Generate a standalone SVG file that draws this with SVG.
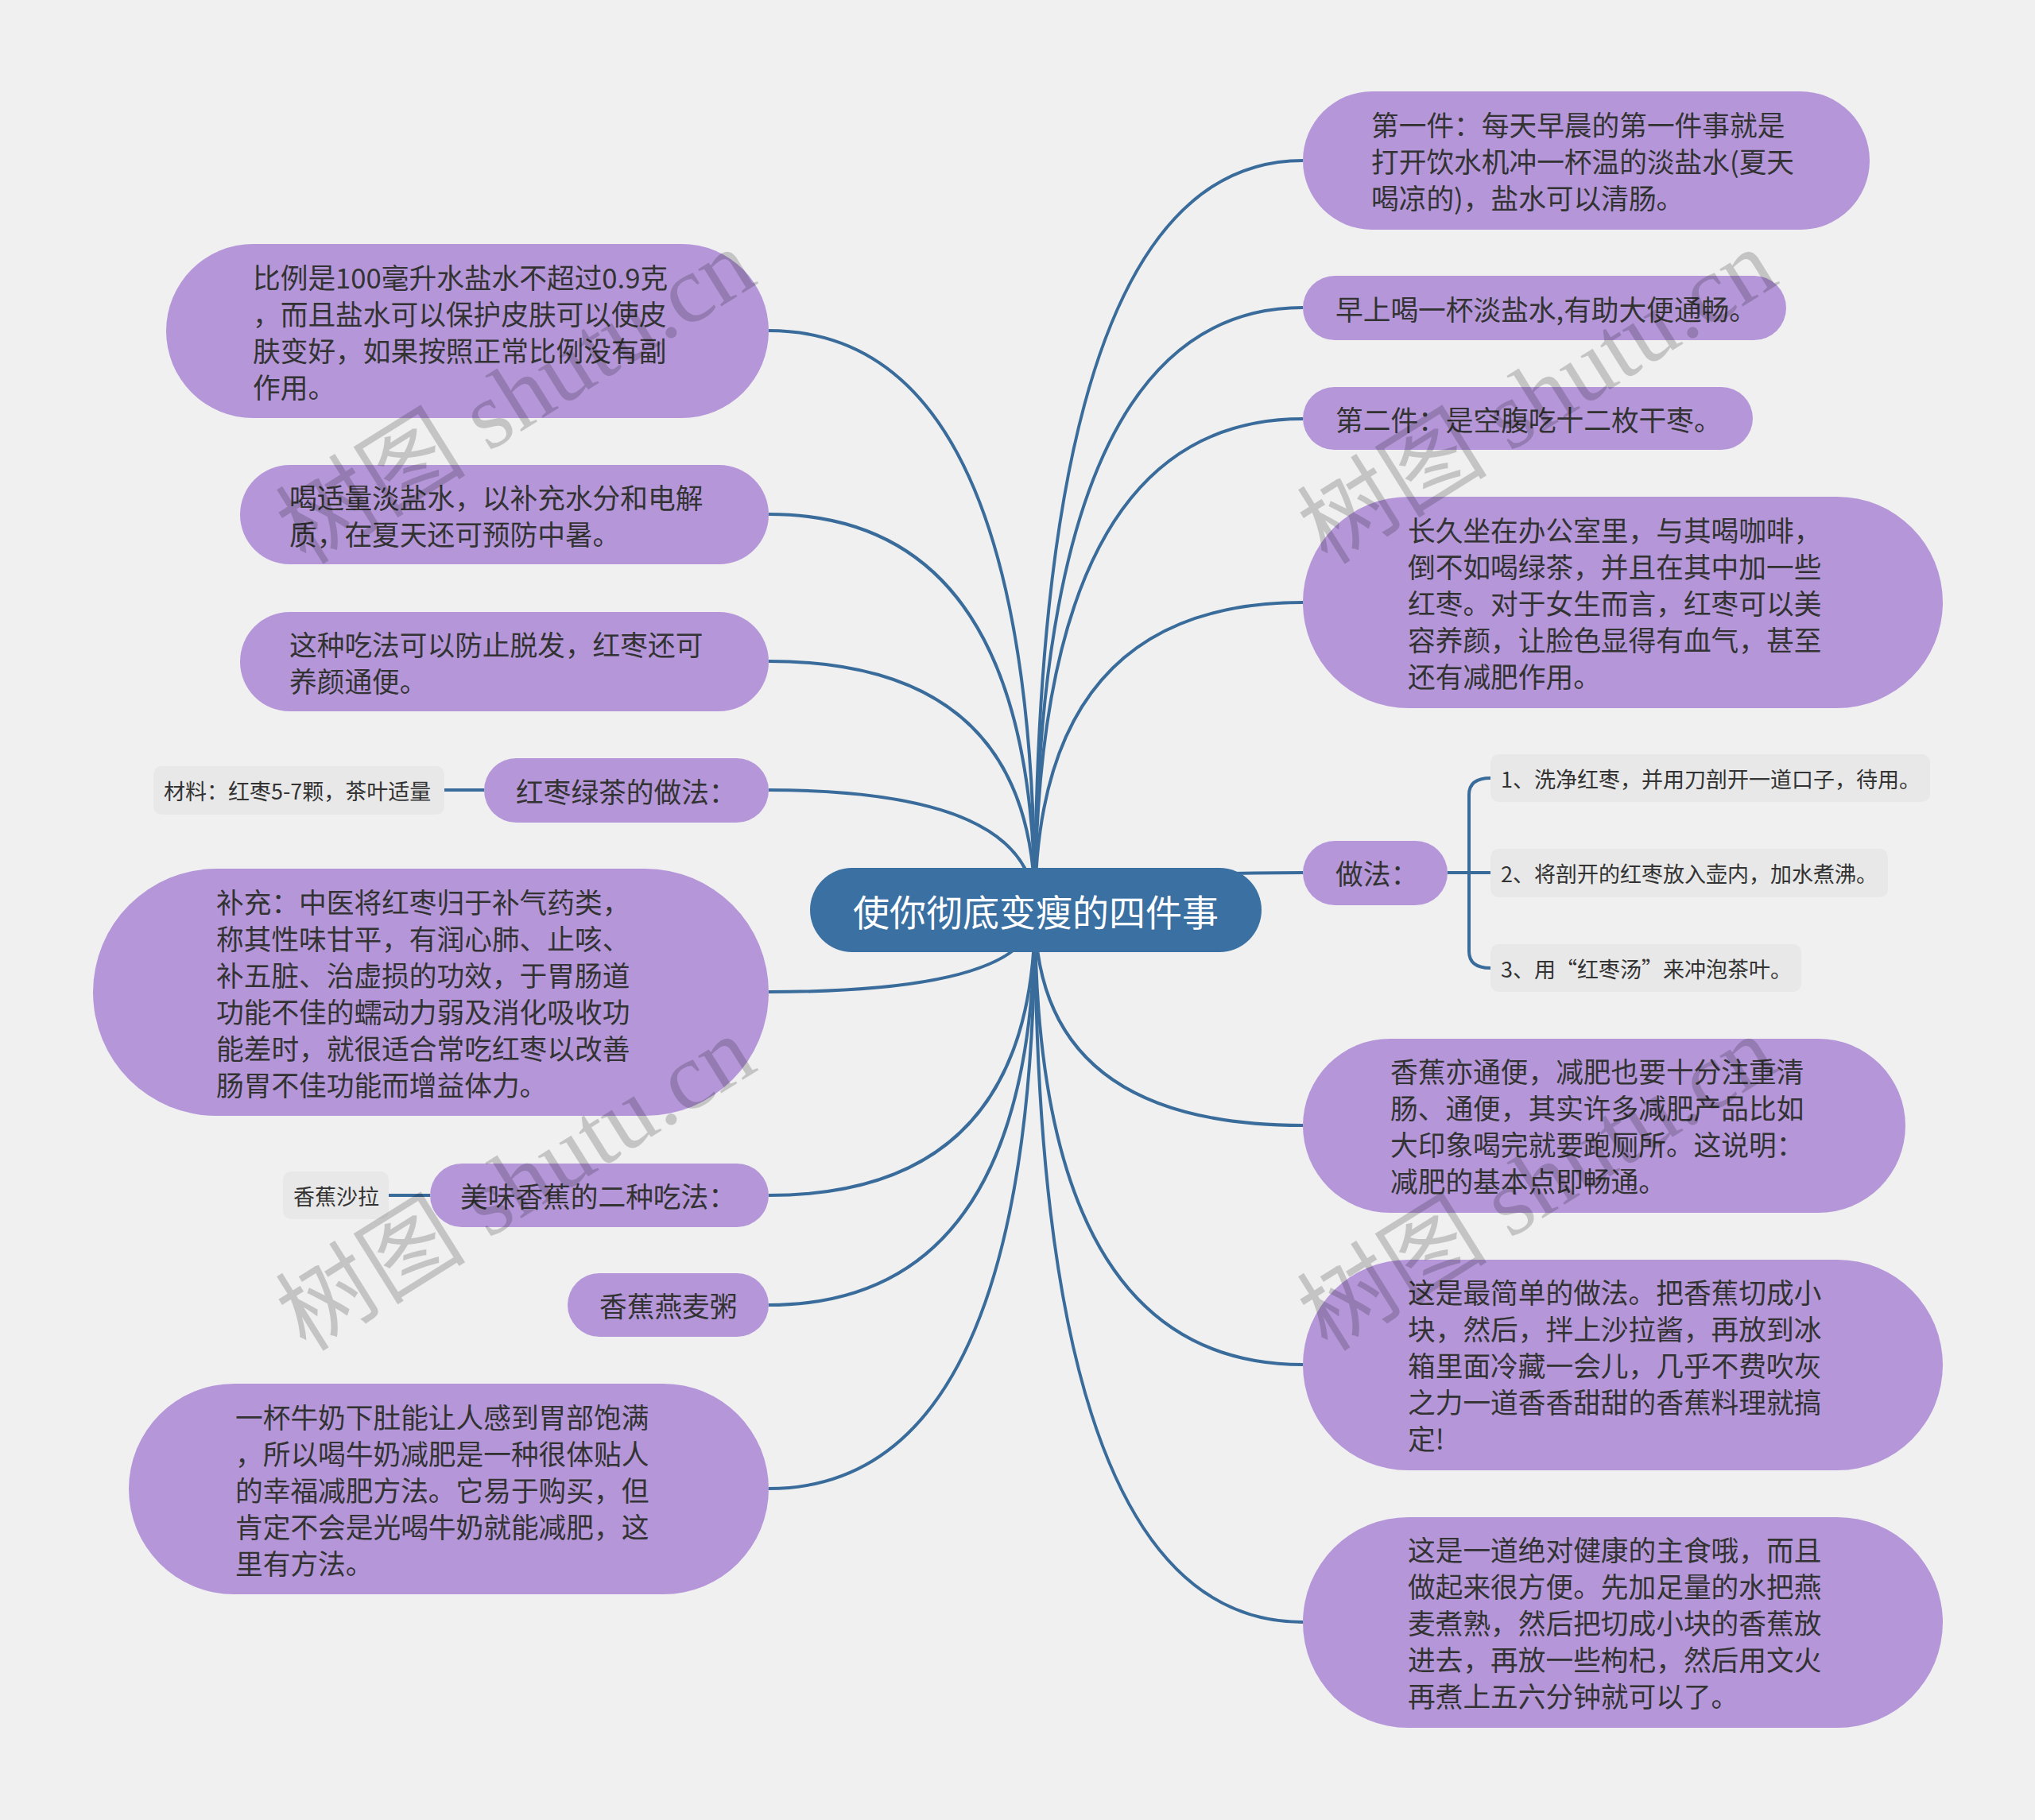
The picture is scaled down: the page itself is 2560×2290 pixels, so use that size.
<svg xmlns="http://www.w3.org/2000/svg" width="2560" height="2290" viewBox="0 0 2560 2290">
<style>
.c{fill:none;stroke:#3a6c9b;stroke-width:4}
.p{fill:#b597d9}
.g{fill:#e8e8e8}
.t{font-family:"Noto Sans CJK SC","Liberation Sans",sans-serif;font-size:34.7px;fill:#333333;dominant-baseline:central}
.s{font-size:27px}
.ct{font-family:"Noto Sans CJK SC","Liberation Sans",sans-serif;font-size:46px;fill:#ffffff;dominant-baseline:central;text-anchor:middle}
.wm{font-family:"Liberation Serif","Noto Sans CJK SC",serif;font-size:120px;fill:#000000;fill-opacity:0.18}
</style>
<rect width="2560" height="2290" fill="#f0f0f0"/>
<g id="connectors">
<path class="c" d="M1302,1146 Q1302,202 1639,202"/>
<path class="c" d="M1302,1146 Q1302,387 1639,387"/>
<path class="c" d="M1302,1146 Q1302,527 1639,527"/>
<path class="c" d="M1302,1146 Q1302,758 1639,758"/>
<path class="c" d="M1302,1146 Q1302,1098 1639,1098"/>
<path class="c" d="M1302,1146 Q1302,1416 1639,1416"/>
<path class="c" d="M1302,1146 Q1302,1717 1639,1717"/>
<path class="c" d="M1302,1146 Q1302,2041 1639,2041"/>
<path class="c" d="M1302,1146 Q1302,416 967,416"/>
<path class="c" d="M1302,1146 Q1302,647 967,647"/>
<path class="c" d="M1302,1146 Q1302,832 967,832"/>
<path class="c" d="M1302,1146 Q1302,994 967,994"/>
<path class="c" d="M1302,1146 Q1302,1248 967,1248"/>
<path class="c" d="M1302,1146 Q1302,1504 967,1504"/>
<path class="c" d="M1302,1146 Q1302,1642 967,1642"/>
<path class="c" d="M1302,1146 Q1302,1873 967,1873"/>
<path class="c" d="M1821,1098 L1875,1098"/>
<path class="c" d="M1848,1098 L1848,1000 Q1848,979 1875,979"/>
<path class="c" d="M1848,1098 L1848,1197 Q1848,1218 1875,1218"/>
<path class="c" d="M609,994 L559,994"/>
<path class="c" d="M541,1504 L489,1504"/>
</g>
<g id="center">
<rect x="1019" y="1092" width="568" height="106" rx="53" fill="#3b70a2"/>
<text class="ct" x="1303" y="1145">使你彻底变瘦的四件事</text>
</g>
<g id="n1">
<rect class="p" x="1639" y="115" width="713" height="174" rx="87"/>
<text class="t" x="1725"><tspan x="1725" y="156">第一件：每天早晨的第一件事就是</tspan><tspan x="1725" y="202">打开饮水机冲一杯温的淡盐水(夏天</tspan><tspan x="1725" y="248">喝凉的)，盐水可以清肠。</tspan></text>
</g>
<g id="n2">
<rect class="p" x="1639" y="347" width="608" height="81" rx="40.5"/>
<text class="t" x="1680" y="387.5">早上喝一杯淡盐水,有助大便通畅。</text>
</g>
<g id="n3">
<rect class="p" x="1639" y="487" width="566" height="79" rx="39.5"/>
<text class="t" x="1680" y="526.5">第二件：是空腹吃十二枚干枣。</text>
</g>
<g id="n4">
<rect class="p" x="1639" y="625" width="805" height="266" rx="133"/>
<text class="t"><tspan x="1771" y="666">长久坐在办公室里，与其喝咖啡，</tspan><tspan x="1771" y="712">倒不如喝绿茶，并且在其中加一些</tspan><tspan x="1771" y="758">红枣。对于女生而言，红枣可以美</tspan><tspan x="1771" y="804">容养颜，让脸色显得有血气，甚至</tspan><tspan x="1771" y="850">还有减肥作用。</tspan></text>
</g>
<g id="n5">
<rect class="p" x="1639" y="1058" width="182" height="81" rx="40.5"/>
<text class="t" x="1680" y="1098">做法：</text>
</g>
<g id="s1">
<rect class="g" x="1875" y="949" width="553" height="60" rx="10"/>
<text class="t s" x="1888" y="979">1、洗净红枣，并用刀剖开一道口子，待用。</text>
</g>
<g id="s2">
<rect class="g" x="1875" y="1068" width="500" height="61" rx="10"/>
<text class="t s" x="1888" y="1098">2、将剖开的红枣放入壶内，加水煮沸。</text>
</g>
<g id="s3">
<rect class="g" x="1875" y="1188" width="391" height="60" rx="10"/>
<text class="t s" x="1888" y="1218">3、用“红枣汤”来冲泡茶叶。</text>
</g>
<g id="n6">
<rect class="p" x="1639" y="1307" width="758" height="219" rx="109.5"/>
<text class="t"><tspan x="1749" y="1347">香蕉亦通便，减肥也要十分注重清</tspan><tspan x="1749" y="1393">肠、通便，其实许多减肥产品比如</tspan><tspan x="1749" y="1439">大印象喝完就要跑厕所。这说明：</tspan><tspan x="1749" y="1485">减肥的基本点即畅通。</tspan></text>
</g>
<g id="n7">
<rect class="p" x="1639" y="1585" width="805" height="265" rx="132.5"/>
<text class="t"><tspan x="1771" y="1625">这是最简单的做法。把香蕉切成小</tspan><tspan x="1771" y="1671">块，然后，拌上沙拉酱，再放到冰</tspan><tspan x="1771" y="1717">箱里面冷藏一会儿，几乎不费吹灰</tspan><tspan x="1771" y="1763">之力一道香香甜甜的香蕉料理就搞</tspan><tspan x="1771" y="1809">定!</tspan></text>
</g>
<g id="n8">
<rect class="p" x="1639" y="1909" width="805" height="265" rx="132.5"/>
<text class="t"><tspan x="1771" y="1949">这是一道绝对健康的主食哦，而且</tspan><tspan x="1771" y="1995">做起来很方便。先加足量的水把燕</tspan><tspan x="1771" y="2041">麦煮熟，然后把切成小块的香蕉放</tspan><tspan x="1771" y="2087">进去，再放一些枸杞，然后用文火</tspan><tspan x="1771" y="2133">再煮上五六分钟就可以了。</tspan></text>
</g>
<g id="l1">
<rect class="p" x="209" y="307" width="758" height="219" rx="109.5"/>
<text class="t"><tspan x="318" y="347.5">比例是100毫升水盐水不超过0.9克</tspan><tspan x="318" y="393.5">，而且盐水可以保护皮肤可以使皮</tspan><tspan x="318" y="439.5">肤变好，如果按照正常比例没有副</tspan><tspan x="318" y="485.5">作用。</tspan></text>
</g>
<g id="l2">
<rect class="p" x="302" y="585" width="665" height="125" rx="62.5"/>
<text class="t"><tspan x="364" y="624.5">喝适量淡盐水，以补充水分和电解</tspan><tspan x="364" y="670.5">质，在夏天还可预防中暑。</tspan></text>
</g>
<g id="l3">
<rect class="p" x="302" y="770" width="665" height="125" rx="62.5"/>
<text class="t"><tspan x="364" y="809.5">这种吃法可以防止脱发，红枣还可</tspan><tspan x="364" y="855.5">养颜通便。</tspan></text>
</g>
<g id="l4">
<rect class="p" x="609" y="954" width="358" height="81" rx="40.5"/>
<text class="t" x="649" y="994.5">红枣绿茶的做法：</text>
</g>
<g id="l4c">
<rect class="g" x="193" y="964" width="366" height="61" rx="10"/>
<text class="t s" x="206" y="994.5">材料：红枣5-7颗，茶叶适量</text>
</g>
<g id="l5">
<rect class="p" x="117" y="1093" width="850" height="311" rx="155.5"/>
<text class="t"><tspan x="272" y="1133.5">补充：中医将红枣归于补气药类，</tspan><tspan x="272" y="1179.5">称其性味甘平，有润心肺、止咳、</tspan><tspan x="272" y="1225.5">补五脏、治虚损的功效，于胃肠道</tspan><tspan x="272" y="1271.5">功能不佳的蠕动力弱及消化吸收功</tspan><tspan x="272" y="1317.5">能差时，就很适合常吃红枣以改善</tspan><tspan x="272" y="1363.5">肠胃不佳功能而增益体力。</tspan></text>
</g>
<g id="l6">
<rect class="p" x="541" y="1464" width="426" height="80" rx="40"/>
<text class="t" x="579" y="1504">美味香蕉的二种吃法：</text>
</g>
<g id="l6c">
<rect class="g" x="356" y="1474" width="133" height="60" rx="10"/>
<text class="t s" x="369" y="1504">香蕉沙拉</text>
</g>
<g id="l7">
<rect class="p" x="714" y="1602" width="253" height="80" rx="40"/>
<text class="t" x="754" y="1642">香蕉燕麦粥</text>
</g>
<g id="l8">
<rect class="p" x="162" y="1741" width="805" height="265" rx="132.5"/>
<text class="t"><tspan x="296" y="1781.5">一杯牛奶下肚能让人感到胃部饱满</tspan><tspan x="296" y="1827.5">，所以喝牛奶减肥是一种很体贴人</tspan><tspan x="296" y="1873.5">的幸福减肥方法。它易于购买，但</tspan><tspan x="296" y="1919.5">肯定不会是光喝牛奶就能减肥，这</tspan><tspan x="296" y="1965.5">里有方法。</tspan></text>
</g>
<g id="watermarks">
<text class="wm" x="385" y="712" transform="rotate(-32 385 712)">树图 shutu.cn</text>
<text class="wm" x="1670" y="712" transform="rotate(-32 1670 712)">树图 shutu.cn</text>
<text class="wm" x="385" y="1702" transform="rotate(-32 385 1702)">树图 shutu.cn</text>
<text class="wm" x="1670" y="1702" transform="rotate(-32 1670 1702)">树图 shutu.cn</text>
</g>
</svg>
